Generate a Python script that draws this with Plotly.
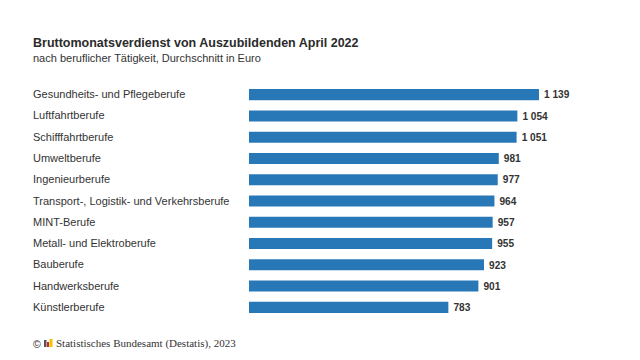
import plotly.graph_objects as go

categories = ["Gesundheits- und Pflegeberufe", "Luftfahrtberufe", "Schifffahrtberufe", "Umweltberufe",
              "Ingenieurberufe", "Transport-, Logistik- und Verkehrsberufe", "MINT-Berufe",
              "Metall- und Elektroberufe", "Bauberufe", "Handwerksberufe", "Künstlerberufe"]
values = [1139, 1054, 1051, 981, 977, 964, 957, 955, 923, 901, 783]
value_labels = ["\u20091\u00a0139", "\u20091\u00a0054", "\u20091\u00a0051", "\u2009981", "\u2009977", "\u2009964",
                "\u2009957", "\u2009955", "\u2009923", "\u2009901", "\u2009783"]
title = "Bruttomonatsverdienst von Auszubildenden April 2022"
subtitle = "nach beruflicher Tätigkeit, Durchschnitt in Euro"
source = "Statistisches Bundesamt (Destatis), 2023"

W, H = 640, 360
SANS = "Liberation Sans"
SERIF = "Liberation Serif"
DARK = "#333333"

fig = go.Figure(go.Bar(
    x=values, y=categories, orientation="h",
    marker=dict(color="#2878b8", line=dict(width=0)),
    text=value_labels, textposition="outside", cliponaxis=False,
    textfont=dict(family=SANS, size=11, color=DARK, weight="bold"),
    hoverinfo="skip",
))

def px(x): return x / W
def py(y): return 1 - y / H

ann = [
    dict(text=f"<b>{title}</b>", x=px(33), y=py(42.5), font=dict(family=SANS, size=12.5, color="#2b2b2b")),
    dict(text=subtitle, x=px(33), y=py(58), font=dict(family=SANS, size=11, color=DARK)),
    dict(text=source, x=px(56), y=py(343), font=dict(family=SERIF, size=11, color=DARK)),
    dict(text="©", x=px(33), y=py(344), font=dict(family=SANS, size=10.5, color=DARK)),
]
for c in categories:
    ann.append(dict(text=c, x=px(33), y=c, yref="y", yshift=0.5, font=dict(family=SANS, size=11, color=DARK)))
for a in ann:
    a.setdefault("xref", "paper")
    a.setdefault("yref", "paper")
    a.update(xanchor="left", yanchor="middle", showarrow=False, align="left", xshift=-2)

logo = [(44, 46.5, "#555555", 340), (47, 49, "#d0202a", 342), (49.5, 52.5, "#f2c200", 339)]
shapes = [dict(type="rect", xref="paper", yref="paper", x0=px(a), x1=px(b), y0=py(347), y1=py(t),
               fillcolor=c, line=dict(width=0)) for a, b, c, t in logo]

fig.update_layout(
    width=W, height=H, autosize=False,
    margin=dict(l=0, r=0, t=0, b=0, pad=0),
    paper_bgcolor="white", plot_bgcolor="white",
    showlegend=False, bargap=0.48,
    xaxis=dict(domain=[px(249), px(539)], range=[0, 1139], visible=False, fixedrange=True),
    yaxis=dict(domain=[py(318), py(84)], type="category", categoryorder="array", categoryarray=categories,
               range=[10.5, -0.5], visible=False, fixedrange=True),
    annotations=ann, shapes=shapes,
)
fig.write_html("out.html", config=dict(displayModeBar=False),
               post_script="document.body.style.margin='0';document.documentElement.style.overflow='hidden';")
